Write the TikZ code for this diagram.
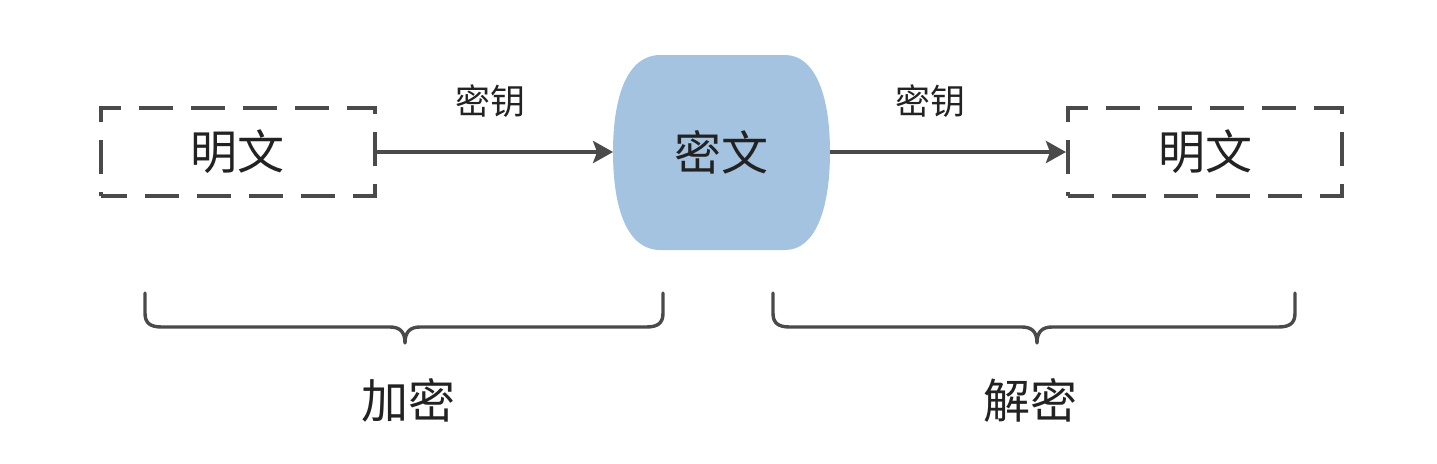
\documentclass[tikz,border=0pt]{standalone}
\usepackage{fontspec}
\setmainfont{Noto Sans CJK SC}
\usetikzlibrary{arrows.meta}
\definecolor{linec}{HTML}{4A4A4A}
\definecolor{txtc}{HTML}{222222}
\definecolor{cipherfill}{HTML}{A4C3E1}
\tikzset{
  plainbox/.style={draw=linec, line width=2pt, dash pattern=on 17pt off 9pt, dash phase=4pt,
    minimum width=137pt, minimum height=44pt, inner sep=0pt, text=txtc,
    font=\fontsize{23.5}{28}\selectfont},
  keyarrow/.style={draw=linec, line width=2pt, -{Stealth[length=10pt,width=11pt,inset=2pt]}},
  keylabel/.style={text=txtc, font=\fontsize{17.5}{21}\selectfont, inner sep=0pt},
  bigtext/.style={text=txtc, font=\fontsize{23.5}{28}\selectfont, inner sep=0pt},
  bracec/.style={draw=linec, line width=1.7pt, line cap=round, line join=round},
}
\begin{document}
\begin{tikzpicture}[x=0.5pt,y=-0.5pt]
\useasboundingbox (0,0) rectangle (1437,463);
% cipher shape
\fill[cipherfill] (660,55) -- (785,55)
  .. controls (815,55) and (830,95) .. (830,152)
  .. controls (830,210) and (815,250) .. (785,250) -- (660,250)
  .. controls (628,250) and (613,210) .. (613,152)
  .. controls (613,95) and (628,55) .. cycle;
\node[bigtext, minimum width=108pt, minimum height=97pt] (c) at (721.5,152) {密文};
\node[plainbox] (p1) at (237.5,152) {明文};
\node[plainbox] (p2) at (1205,152) {明文};
\draw[keyarrow] (p1.east) -- (c.west);
\draw[keyarrow] (c.east) -- (p2.west);
\node[keylabel] (k1) at (490,101) {密钥};
\node[keylabel] (k2) at (930,101) {密钥};
% braces
\coordinate (b1l) at (145,293);
\coordinate (b1r) at (663,293);
\coordinate (b1t) at (405,343);
\draw[bracec] (b1l) -- (145,313) .. controls (145,323) and (150,327) .. (162,327)
  -- (390,327) .. controls (400,327) and (405,332) .. (b1t)
  .. controls (405,332) and (410,327) .. (420,327) -- (646,327)
  .. controls (658,327) and (663,323) .. (663,313) -- (b1r);
\coordinate (b2l) at (773,293);
\coordinate (b2r) at (1295,293);
\coordinate (b2t) at (1037,343);
\draw[bracec] (b2l) -- (773,313) .. controls (773,323) and (778,327) .. (790,327)
  -- (1022,327) .. controls (1032,327) and (1037,332) .. (b2t)
  .. controls (1037,332) and (1042,327) .. (1052,327) -- (1278,327)
  .. controls (1290,327) and (1295,323) .. (1295,313) -- (b2r);
\node[bigtext] (enc) at (408,400) {加密};
\node[bigtext] (dec) at (1030,400) {解密};
\end{tikzpicture}
\end{document}
